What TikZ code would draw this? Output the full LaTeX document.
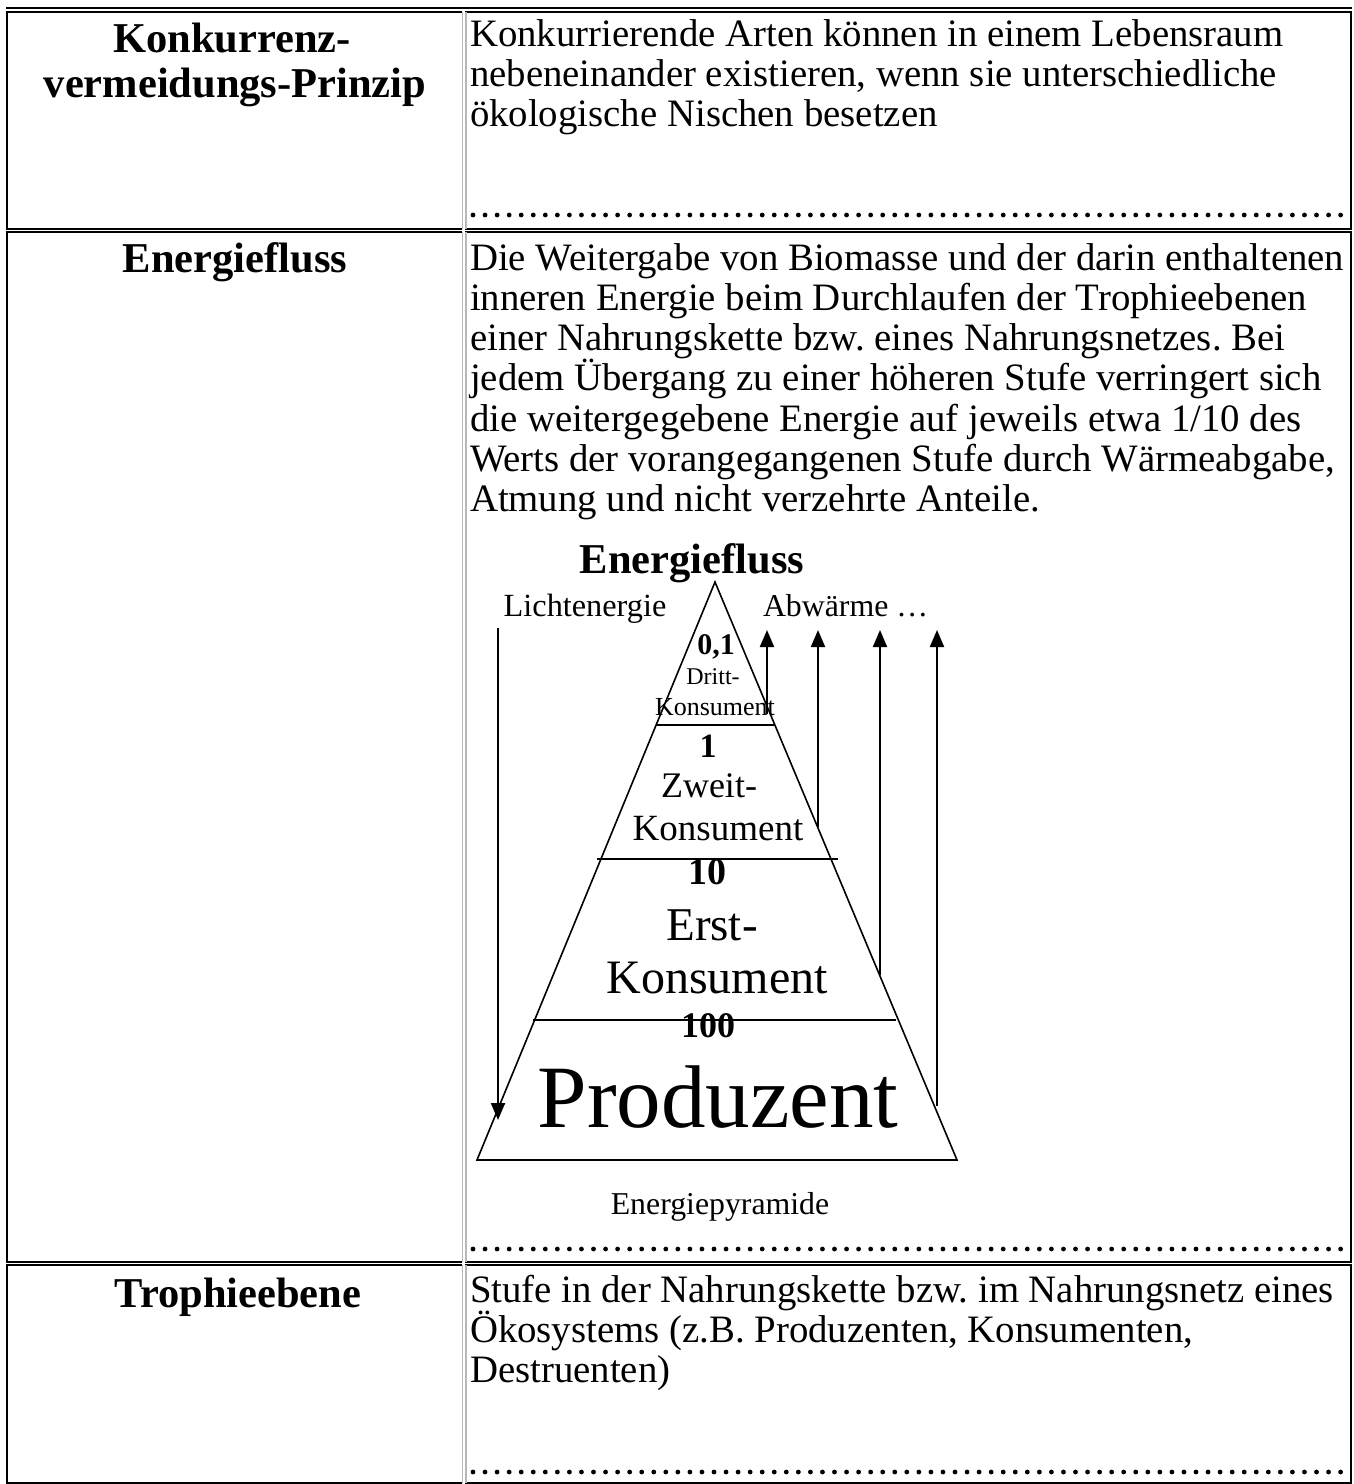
\documentclass[tikz,border=0pt]{standalone}
\usepackage{fontspec}
\setmainfont{Liberation Serif}
\usetikzlibrary{arrows.meta}
\newcommand{\fs}[1]{\fontsize{#1}{#1}\selectfont}
\frenchspacing
\begin{document}
\begin{tikzpicture}[x=1pt,y=-1pt,
  txt/.style={inner sep=0pt,outer sep=0pt,anchor=base west,font=\fs{38.8}\frenchspacing},
  head/.style={inner sep=0pt,outer sep=0pt,anchor=base,font=\fs{42.5}\bfseries},
  lab/.style={inner sep=0pt,outer sep=0pt,anchor=base},
  cellb/.style={line width=2pt,black},
  cellg/.style={line width=1.5pt,black!28},
  pyr/.style={line width=1.6pt,line join=miter},
  up/.style={line width=2pt,-{Triangle[length=17pt,width=14pt]}},
  dots/.style={fill=black}]
\useasboundingbox (0,0) rectangle (1354,1484);
% ---------------- table frame ----------------
\draw[cellb] (6,7.5) -- (1352,7.5);
\foreach \t/\b in {12/229,232/1262,1265/1483}{
  \draw[cellb] (462,\t) -- (7,\t) -- (7,\b) -- (462,\b);
  \draw[cellb] (465,\t) -- (1351,\t) -- (1351,\b) -- (465,\b);
  \draw[cellg] (462.5,\t) -- (462.5,\b);
  \draw[cellg] (465.8,\t) -- (465.8,\b);
}
% dotted lines
\foreach \y in {215,1249,1472}{
  \foreach \i in {0,...,72}{ \fill[dots] (473+\i*12.05,\y) circle (2.4pt); }
}
% ---------------- row 1 ----------------
\node[head] (h1a) at (232,52) {Konkurrenz-};
\node[head] (h1b) at (235,97) {vermeidungs-Prinzip};
\node[txt] (t1a) at (470,46) {Konkurrierende Arten können in einem Lebensraum};
\node[txt] (t1b) at (470,86) {nebeneinander existieren, wenn sie unterschiedliche};
\node[txt] (t1c) at (470,126) {ökologische Nischen besetzen};
% ---------------- row 2 ----------------
\node[head] (h2) at (235,272) {Energiefluss};
\node[txt] (t2a) at (470,270) {Die Weitergabe von Biomasse und der darin enthaltenen};
\node[txt] (t2b) at (470,310.3) {inneren Energie beim Durchlaufen der Trophieebenen};
\node[txt] (t2c) at (470,350.6) {einer Nahrungskette bzw. eines Nahrungsnetzes. Bei};
\node[txt] (t2d) at (470,390.9) {jedem Übergang zu einer höheren Stufe verringert sich};
\node[txt] (t2e) at (470,431.2) {die weitergegebene Energie auf jeweils etwa 1/10 des};
\node[txt] (t2f) at (470,471.5) {Werts der vorangegangenen Stufe durch Wärmeabgabe,};
\node[txt] (t2g) at (470,511.8) {Atmung und nicht verzehrte Anteile.};
% ---------------- pyramid ----------------
\coordinate (apex) at (715,582);
\coordinate (bl) at (477,1160);
\coordinate (br) at (957,1160);
\draw[pyr] (bl) -- (apex) -- (br) -- cycle;
\coordinate (l1a) at (656,725);  \coordinate (l1b) at (774,725);
\coordinate (l2a) at (597,859);  \coordinate (l2b) at (838,859);
\coordinate (l3a) at (533,1020); \coordinate (l3b) at (896,1020);
\draw[pyr] (l1a) -- (l1b);
\draw[pyr] (l2a) -- (l2b);
\draw[pyr] (l3a) -- (l3b);
\node[head] (ptitle) at (692,573) {Energiefluss};
\node[lab,font=\fs{32.3}] (licht) at (585,616) {Lichtenergie};
\node[lab,font=\fs{31.8},anchor=base west] (abw) at (763,616) {Abwärme …};
\node[lab,font=\fs{30}\bfseries] (v01) at (716,654) {0,1};
\node[lab,font=\fs{24}] (dritt) at (713,684) {Dritt-};
\node[lab,font=\fs{26}] (k3) at (715,715) {Konsument};
\node[lab,font=\fs{34}\bfseries] (v1) at (708,757) {1};
\node[lab,font=\fs{36}] (zweit) at (709,797) {Zweit-};
\node[lab,font=\fs{37}] (k2) at (718,840) {Konsument};
\node[lab,font=\fs{38}\bfseries] (v10) at (707,884) {10};
\node[lab,font=\fs{47}] (erst) at (712,940) {Erst-};
\node[lab,font=\fs{48}] (k1) at (717,993) {Konsument};
\node[lab,font=\fs{36}\bfseries] (v100) at (708,1037) {100};
\node[lab,font=\fs{89}] (prod) at (718,1127) {Produzent};
\node[lab,font=\fs{31.8}] (epyr) at (720,1214) {Energiepyramide};
% arrows
\coordinate (a1s) at (767,714);  \coordinate (a1e) at (767,630);
\coordinate (a2s) at (818,827);  \coordinate (a2e) at (818,630);
\coordinate (a3s) at (880,975);  \coordinate (a3e) at (880,630);
\coordinate (a4s) at (937,1106); \coordinate (a4e) at (937,630);
\coordinate (lis) at (498,628);  \coordinate (lie) at (498,1120);
\draw[up] (a1s) -- (a1e);
\draw[up] (a2s) -- (a2e);
\draw[up] (a3s) -- (a3e);
\draw[up] (a4s) -- (a4e);
\draw[up] (lis) -- (lie);
% ---------------- row 3 ----------------
\node[head] (h3) at (238,1307) {Trophieebene};
\node[txt] (t3a) at (470,1302) {Stufe in der Nahrungskette bzw. im Nahrungsnetz eines};
\node[txt] (t3b) at (470,1342) {Ökosystems (z.B. Produzenten, Konsumenten,};
\node[txt] (t3c) at (470,1382) {Destruenten)};
\end{tikzpicture}
\end{document}
